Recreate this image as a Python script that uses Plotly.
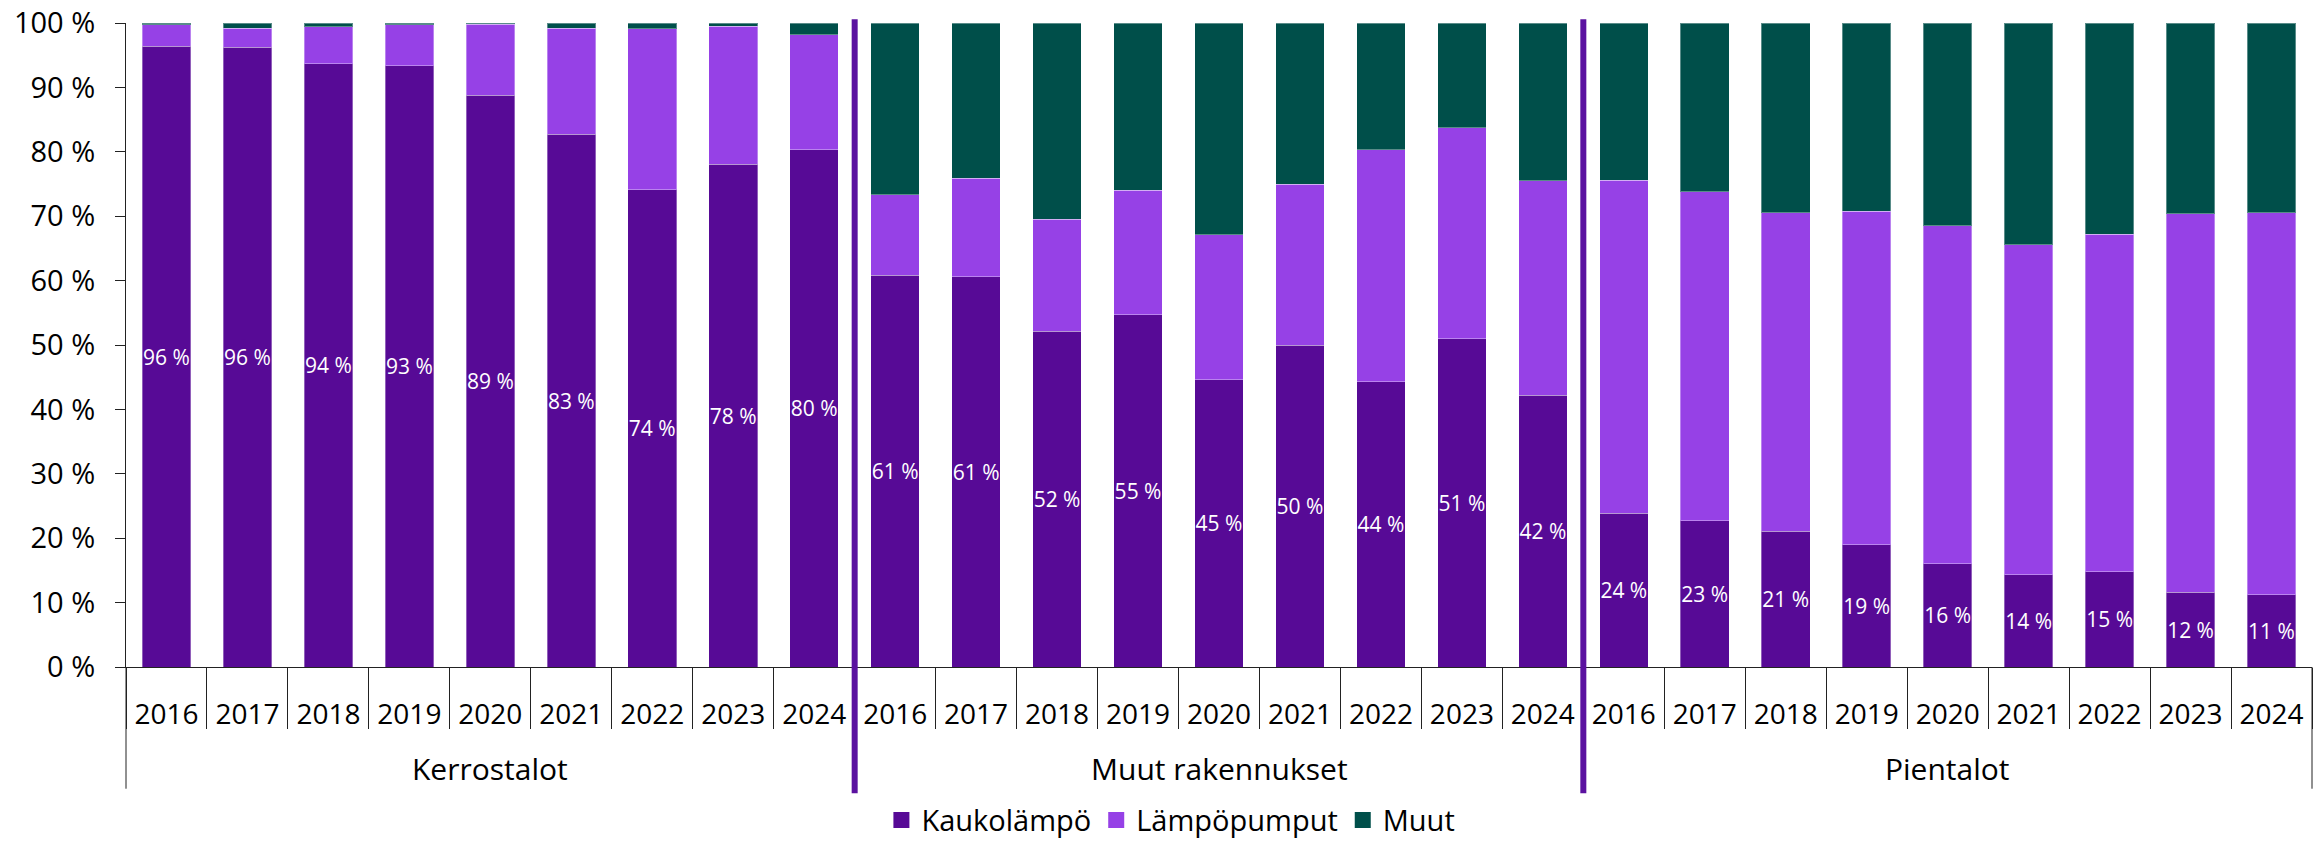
import plotly.graph_objects as go

groups = ["Kerrostalot", "Muut rakennukset", "Pientalot"]
years = ["2016", "2017", "2018", "2019", "2020", "2021", "2022", "2023", "2024"]

# shares (%) per group, years 2016..2024
kauko_kerros = [96.4, 96.2, 93.7, 93.4, 88.8, 82.7, 74.1, 78.1, 80.3]
lampo_kerros = [3.3, 3.0, 5.7, 6.3, 11.0, 16.5, 25.0, 21.4, 17.9]
muut_kerros = [0.3, 0.8, 0.6, 0.3, 0.2, 0.8, 0.9, 0.5, 1.8]

kauko_muutrak = [60.8, 60.6, 52.1, 54.7, 44.6, 50.0, 44.3, 51.0, 42.2]
lampo_muutrak = [12.5, 15.3, 17.4, 19.3, 22.5, 25.0, 36.0, 32.7, 33.3]
muut_muutrak = [26.7, 24.1, 30.5, 26.0, 32.9, 25.0, 19.7, 16.3, 24.5]

kauko_pien = [23.9, 22.7, 21.1, 19.0, 16.0, 14.3, 14.8, 11.6, 11.2]
lampo_pien = [51.7, 51.1, 49.4, 51.8, 52.5, 51.3, 52.4, 58.8, 59.3]
muut_pien = [24.4, 26.2, 29.5, 29.2, 31.5, 34.4, 32.8, 29.6, 29.5]

series_names = ["Kaukolämpö", "Lämpöpumput", "Muut"]
colors = ["#570A96", "#9641E6", "#004F4A"]

categories = [f"{g} {y}" for g in groups for y in years]
tick_text = [y for g in groups for y in years]
kauko = kauko_kerros + kauko_muutrak + kauko_pien
lampo = lampo_kerros + lampo_muutrak + lampo_pien
muut = muut_kerros + muut_muutrak + muut_pien

FONT = "Open Sans"
fig = go.Figure()
for name, vals, col in zip(series_names, [kauko, lampo, muut], colors):
    kw = {}
    if name == "Kaukolämpö":
        kw = dict(text=vals, texttemplate="%{y:.0f} %", textposition="inside",
                  insidetextanchor="middle", textangle=0, constraintext="none",
                  textfont=dict(family=FONT, size=21, color="white"))
    fig.add_trace(go.Bar(x=categories, y=vals, name=name, marker_color=col,
                         marker_line=dict(color="rgba(255,255,255,0.35)", width=1),
                         showlegend=False, **kw))
# legend entries with larger square symbols
for name, col in zip(series_names, colors):
    fig.add_trace(go.Scatter(x=[None], y=[None], mode="markers", name=name,
                             marker=dict(symbol="square", size=18, color=col)))

shapes = []
# outer boundary extensions
for xp in [0, 1]:
    shapes.append(dict(type="line", xref="paper", yref="paper", x0=xp, x1=xp,
                       y0=0, y1=-0.189, line=dict(color="#222", width=1)))
# group dividers
n = len(years)
for k in range(1, len(groups)):
    xb = k * n - 0.5
    shapes.append(dict(type="line", xref="x", yref="paper", x0=xb, x1=xb,
                       y0=1.006, y1=-0.196, line=dict(color="#5B12A0", width=6),
                       layer="above"))

annotations = []
for g in groups:
    annotations.append(dict(x=f"{g} {years[4]}", xref="x", y=-0.158, yref="paper",
                            text=g, showarrow=False, yanchor="middle",
                            font=dict(family=FONT, size=30, color="#000")))

# figure is taller than the window so the legend is never clipped by plotly;
# the visible window shows the top 843 px
fig.update_layout(
    width=2313, height=880,
    margin=dict(l=126, r=1, t=23, b=213, autoexpand=False),
    barmode="stack", bargap=0.4,
    plot_bgcolor="white", paper_bgcolor="white",
    font=dict(family=FONT, size=28, color="#000"),
    shapes=shapes, annotations=annotations,
    legend=dict(orientation="h", x=0.478, xanchor="center", y=-0.238, yanchor="middle",
                traceorder="normal",
                font=dict(family=FONT, size=29, color="#000"), itemsizing="trace"),
)
fig.update_xaxes(type="category", tickvals=categories, ticktext=tick_text,
                 ticks="outside", tickson="boundaries", ticklen=61, tickcolor="#222",
                 showline=True, linecolor="#222", showgrid=False, automargin=False,
                 ticklabelstandoff=22, tickfont=dict(family=FONT, size=28, color="#000"),
                 range=[-0.5, len(categories) - 0.5])
fig.update_yaxes(range=[0, 100], tickvals=list(range(0, 101, 10)),
                 ticktext=[f"{v} %" for v in range(0, 101, 10)],
                 ticks="outside", ticklen=10, tickcolor="#222", automargin=False,
                 ticklabeloverflow="allow",
                 showline=True, linecolor="#222", showgrid=False, zeroline=False,
                 ticklabelstandoff=14, tickfont=dict(family=FONT, size=29, color="#000"))

fig.write_html("out.html", config={"displayModeBar": False},
               post_script="document.body.style.margin='0';"
                           "document.body.style.overflow='hidden';"
                           "document.documentElement.style.overflow='hidden';")
